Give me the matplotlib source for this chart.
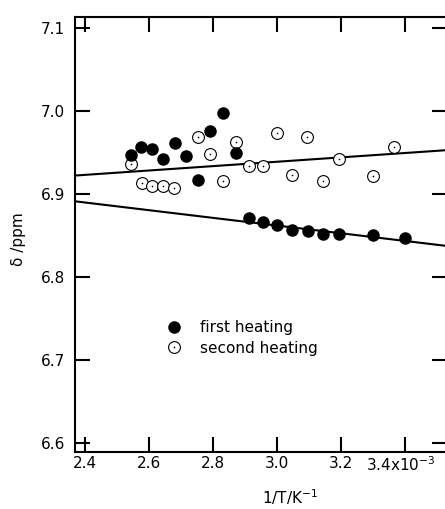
import matplotlib
matplotlib.use('Agg')
import matplotlib.pyplot as plt

plt.rcParams['font.family'] = ['DejaVu Sans']
plt.rcParams['mathtext.fontset'] = 'dejavusans'

# first heating (filled)
x1 = [2.544, 2.576, 2.610, 2.644, 2.680, 2.716, 2.754, 2.792, 2.831, 2.872,
      2.913, 2.957, 3.001, 3.048, 3.096, 3.143, 3.193, 3.300, 3.399]
y1 = [6.947, 6.957, 6.954, 6.942, 6.961, 6.945, 6.917, 6.976, 6.997, 6.949,
      6.871, 6.866, 6.862, 6.857, 6.855, 6.852, 6.852, 6.850, 6.847]

# second heating (open)
x2 = [2.544, 2.577, 2.610, 2.644, 2.679, 2.753, 2.792, 2.831, 2.873, 2.913,
      2.957, 3.001, 3.048, 3.095, 3.143, 3.193, 3.299, 3.367]
y2 = [6.936, 6.913, 6.909, 6.909, 6.907, 6.969, 6.948, 6.915, 6.963, 6.934,
      6.933, 6.973, 6.923, 6.968, 6.915, 6.942, 6.921, 6.957]

# fitted lines (endpoints)
fit_x = [2.369, 3.53]
fit_upper = [6.922, 6.9526]
fit_lower = [6.891, 6.8372]

xticks = [2.4, 2.6, 2.8, 3.0, 3.2, 3.4]
xticklabels = ['2.4', '2.6', '2.8', '3.0', '3.2', '']
yticks = [6.6, 6.7, 6.8, 6.9, 7.0, 7.1]
yticklabels = ['6.6', '6.7', '6.8', '6.9', '7.0', '7.1']

fs = 11

fig = plt.figure(figsize=(4.45, 5.09), dpi=100)
ax = fig.add_axes([0.1685, 0.112, 0.836, 0.8546])

ax.plot(fit_x, fit_upper, color='black', lw=1.5, zorder=1)
ax.plot(fit_x, fit_lower, color='black', lw=1.5, zorder=1)

h1, = ax.plot(x1, y1, 'o', color='black', ms=8, ls='none', zorder=3)
h2, = ax.plot(x2, y2, 'o', mfc='white', mec='black', mew=0.8, ms=8.5, ls='none',
              zorder=2)
hd, = ax.plot(x2, y2, 'o', color='black', ms=1.2, mew=0, ls='none', zorder=2)

ax.set_xlim(2.369, 3.531)
ax.set_ylim(6.589, 7.113)
ax.set_xticks(xticks)
ax.set_xticklabels(xticklabels)
ax.set_yticks(yticks)
ax.set_yticklabels(yticklabels)
ax.tick_params(direction='in', length=10.5, width=1.5, top=True, right=True,
               labelsize=fs)
ax.tick_params(axis='x', pad=3)
ax.tick_params(axis='y', pad=7)
for s in ax.spines.values():
    s.set_linewidth(1.5)

# last x tick label with exponent, on the same baseline as the others
ax.text(3.386, -0.043, r'3.4x10$^{-3}$', transform=ax.get_xaxis_transform(),
        ha='center', va='baseline', fontsize=fs)

ax.set_xlabel(r'1/T/K$^{-1}$', fontsize=fs)
ax.xaxis.set_label_coords(0.578, -0.082)
ax.set_ylabel('δ /ppm', fontsize=fs)
ax.yaxis.set_label_coords(-0.132, 0.49)

ax.legend([h1, (h2, hd)], ['first heating', 'second heating'],
          loc='center left', bbox_to_anchor=(0.245, 0.262), frameon=False,
          fontsize=fs, handlelength=1, handletextpad=1.2, borderpad=0,
          borderaxespad=0, labelspacing=0.35)

fig.savefig('out.png', dpi=100)
